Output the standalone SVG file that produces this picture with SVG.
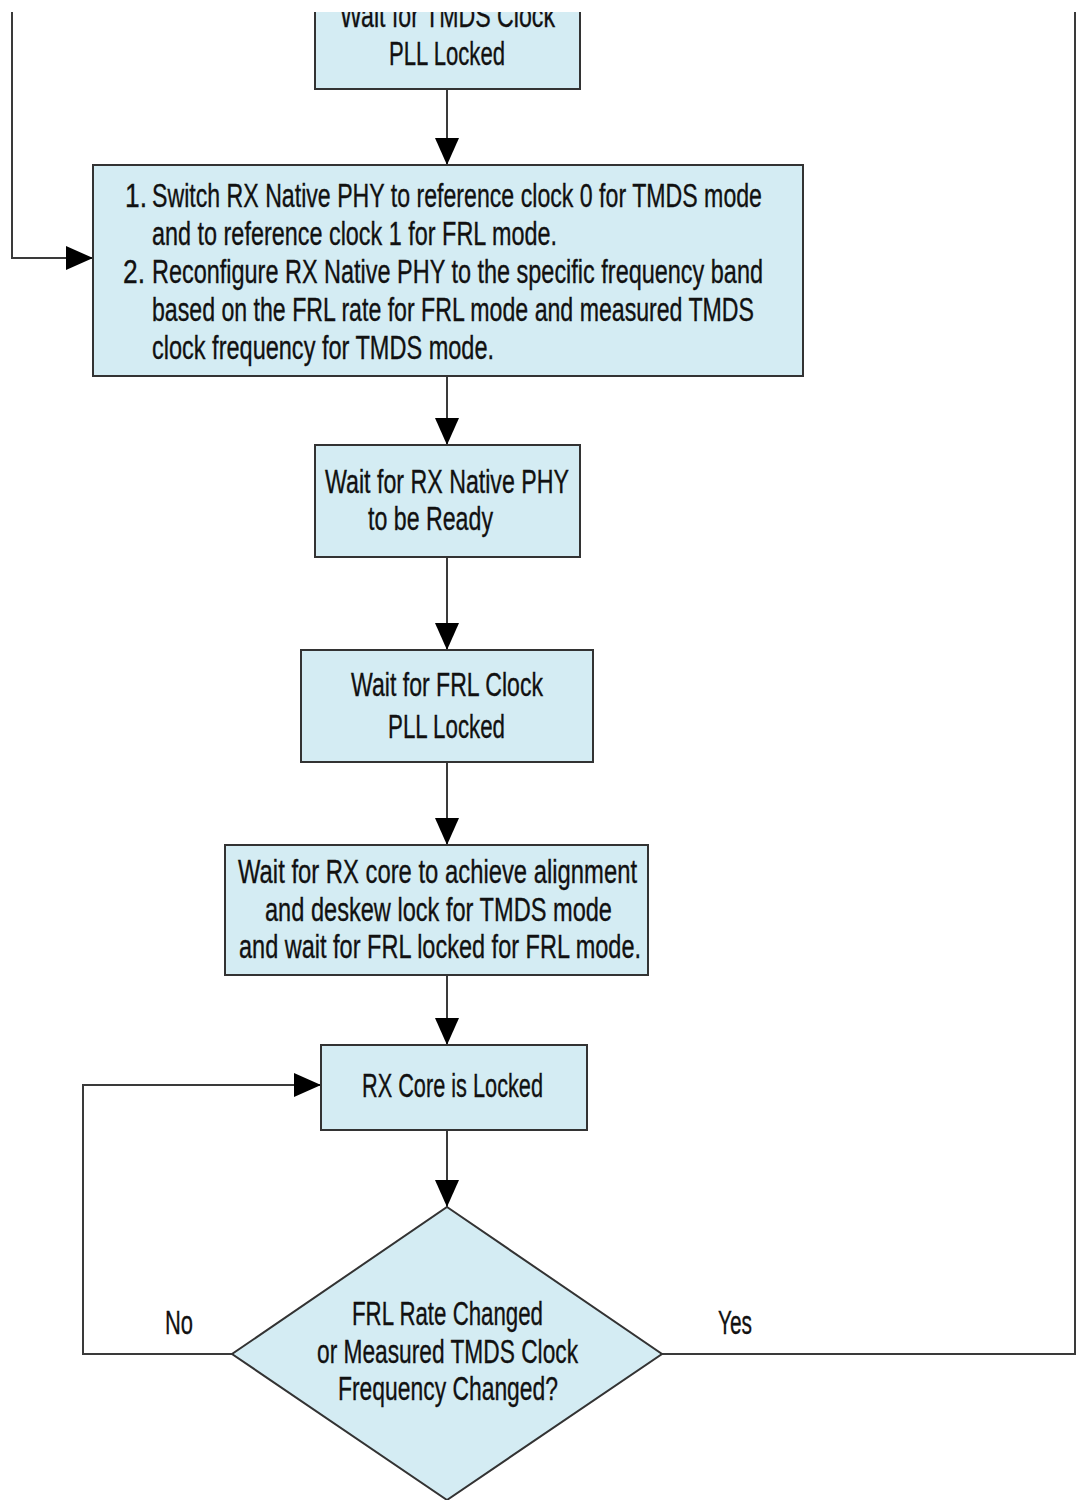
<svg xmlns="http://www.w3.org/2000/svg" width="1077" height="1500" viewBox="0 0 1077 1500">
  <style>
    .box { fill: #d4ecf3; stroke: #333333; stroke-width: 2; }
    .wire { fill: none; stroke: #3a3a3a; stroke-width: 2; }
    .lbl { font-family: "Liberation Sans", Arial, sans-serif; font-size: 33px; fill: #111111; stroke: #111111; stroke-width: 0.35; }
  </style>
  <defs>
    <marker id="arrow" markerUnits="userSpaceOnUse" markerWidth="28" markerHeight="24" refX="27" refY="12" orient="auto">
      <path d="M0,0 L27,12 L0,24 z" fill="#000000"/>
    </marker>
    <clipPath id="page">
      <rect x="0" y="12" width="1077" height="1488"/>
    </clipPath>
  </defs>
  <rect width="1077" height="1500" fill="#ffffff"/>
  <g clip-path="url(#page)">
    <!-- connectors -->
    <g id="connectors">
      <path class="wire" d="M447,89 V165" marker-end="url(#arrow)"/>
      <path class="wire" d="M447,376 V445" marker-end="url(#arrow)"/>
      <path class="wire" d="M447,557 V650" marker-end="url(#arrow)"/>
      <path class="wire" d="M447,762 V845" marker-end="url(#arrow)"/>
      <path class="wire" d="M447,975 V1045" marker-end="url(#arrow)"/>
      <path class="wire" d="M447,1130 V1207" marker-end="url(#arrow)"/>
      <path class="wire" d="M12,0 V258 H93" marker-end="url(#arrow)"/>
      <path class="wire" d="M232,1354 H83 V1085 H321" marker-end="url(#arrow)"/>
      <path class="wire" d="M662,1354 H1075 V0"/>
      <text class="lbl" x="165" y="1334" textLength="28" lengthAdjust="spacingAndGlyphs">No</text>
      <text class="lbl" x="718" y="1334" textLength="34" lengthAdjust="spacingAndGlyphs">Yes</text>
    </g>

    <!-- wait for TMDS clock PLL lock -->
    <g id="tmds-pll">
      <rect class="box" x="315" y="-30" width="265" height="119"/>
      <text class="lbl" x="340" y="27" textLength="215" lengthAdjust="spacingAndGlyphs">Wait for TMDS Clock</text>
      <text class="lbl" x="389" y="65" textLength="116" lengthAdjust="spacingAndGlyphs">PLL Locked</text>
    </g>

    <!-- reference clock switch and PHY reconfiguration -->
    <g id="reconfig">
      <rect class="box" x="93" y="165" width="710" height="211"/>
      <text class="lbl" x="125" y="207" textLength="22" lengthAdjust="spacingAndGlyphs">1.</text>
      <text class="lbl" x="152" y="207" textLength="610" lengthAdjust="spacingAndGlyphs">Switch RX Native PHY to reference clock 0 for TMDS mode</text>
      <text class="lbl" x="152" y="245" textLength="405" lengthAdjust="spacingAndGlyphs">and to reference clock 1 for FRL mode.</text>
      <text class="lbl" x="123" y="283" textLength="22" lengthAdjust="spacingAndGlyphs">2.</text>
      <text class="lbl" x="152" y="283" textLength="611" lengthAdjust="spacingAndGlyphs">Reconfigure RX Native PHY to the specific frequency band</text>
      <text class="lbl" x="152" y="321" textLength="602" lengthAdjust="spacingAndGlyphs">based on the FRL rate for FRL mode and measured TMDS</text>
      <text class="lbl" x="152" y="359" textLength="342" lengthAdjust="spacingAndGlyphs">clock frequency for TMDS mode.</text>
    </g>

    <!-- wait for PHY ready -->
    <g id="phy-ready">
      <rect class="box" x="315" y="445" width="265" height="112"/>
      <text class="lbl" x="325" y="493" textLength="244" lengthAdjust="spacingAndGlyphs">Wait for RX Native PHY</text>
      <text class="lbl" x="368" y="530" textLength="125" lengthAdjust="spacingAndGlyphs">to be Ready</text>
    </g>

    <!-- wait for FRL clock PLL lock -->
    <g id="frl-pll">
      <rect class="box" x="301" y="650" width="292" height="112"/>
      <text class="lbl" x="351" y="696" textLength="192" lengthAdjust="spacingAndGlyphs">Wait for FRL Clock</text>
      <text class="lbl" x="388" y="738" textLength="117" lengthAdjust="spacingAndGlyphs">PLL Locked</text>
    </g>

    <!-- wait for alignment / FRL lock -->
    <g id="align-lock">
      <rect class="box" x="225" y="845" width="423" height="130"/>
      <text class="lbl" x="238" y="883" textLength="399" lengthAdjust="spacingAndGlyphs">Wait for RX core to achieve alignment</text>
      <text class="lbl" x="265" y="921" textLength="347" lengthAdjust="spacingAndGlyphs">and deskew lock for TMDS mode</text>
      <text class="lbl" x="239" y="958" textLength="402" lengthAdjust="spacingAndGlyphs">and wait for FRL locked for FRL mode.</text>
    </g>

    <!-- locked state -->
    <g id="core-locked">
      <rect class="box" x="321" y="1045" width="266" height="85"/>
      <text class="lbl" x="362" y="1097" textLength="181" lengthAdjust="spacingAndGlyphs">RX Core is Locked</text>
    </g>

    <!-- rate change decision -->
    <g id="rate-changed">
      <polygon class="box" points="447,1207 662,1354 447,1500 232,1354"/>
      <text class="lbl" x="352" y="1325" textLength="191" lengthAdjust="spacingAndGlyphs">FRL Rate Changed</text>
      <text class="lbl" x="317" y="1363" textLength="261" lengthAdjust="spacingAndGlyphs">or Measured TMDS Clock</text>
      <text class="lbl" x="338" y="1400" textLength="220" lengthAdjust="spacingAndGlyphs">Frequency Changed?</text>
    </g>
  </g>
</svg>
